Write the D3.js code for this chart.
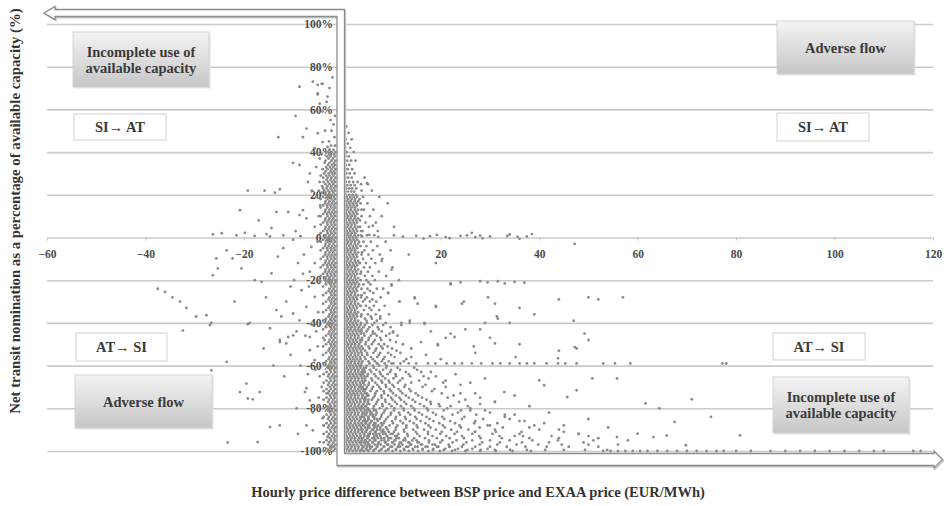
<!DOCTYPE html>
<html><head><meta charset="utf-8">
<script src="https://cdn.jsdelivr.net/npm/d3@7"></script>
<style>body{margin:0;background:#fff}svg{display:block}</style>
</head><body>
<svg id="c" width="944" height="506"></svg>
<script>
// ---------- tick values ----------
const xTicks = [-60,-40,-20,0,20,40,60,80,100,120];
const yTicks = [-100,-80,-60,-40,-20,0,20,40,60,80,100];

// ---------- data ----------
// rows: [net transit nomination %, price difference values ...]
const rightCoreRows = [
[52,.8],[49,1.3],[46,.7,1.9],[44,1.1],[42,.6,1.6],[40,.9,2.3],[38,.6,1.3],[36,1,1.8,2.7],[34,.7,1.4],[32,.6,1.1,2],[30,.8,1.5,2.5],[28,.6,1.2,1.9],[26,.7,1.4,2.2,3.1],[24.5,.6,1,1.7,2.5],[23,.8,1.4,2,2.8],[21.5,.6,1.1,1.8,2.4],
[20,.7,1.4,2.1,2.8],[19,.9,1.6,2.3,3],[18,.6,1.2,1.9,2.6,3.5],[17,1,1.7,2.5,3.2],[16,.7,1.4,2.1,2.8],[15,.9,1.6,2.3,3],[14,.6,1.2,1.9,2.6],[13,1,1.7,2.5,3.2,3.9],[12,.7,1.4,2.1,2.8],[11,.9,1.6,2.3,3],[10,.6,1.2,1.9,2.6],[9,1,1.7,2.5,3.2],[8,.7,1.4,2.1,2.8,3.6],[7,.9,1.6,2.3,3],[6,.6,1.2,1.9,2.6],[5,1,1.7,2.5,3.2],[4,.7,1.4,2.1,2.8],[3,.9,1.6,2.3,3,3.8],[2,.6,1.2,1.9,2.6],[1,1,1.7,2.5,3.2],[0,.7,1.4,2.1,2.8],[-1,.9,1.6,2.3,3],[-2,.6,1.2,1.9,2.6,3.4],[-3,1,1.7,2.5,3.2],[-4,.7,1.4,2.1,2.8],[-5,.9,1.6,2.3,3],[-6,.6,1.2,1.9,2.6],[-7,1,1.7,2.5,3.2,4],[-8,.7,1.4,2.1,2.8],[-9,.9,1.6,2.3,3],[-10,.6,1.2,1.9,2.6],[-11,1,1.7,2.5,3.2],[-12,.7,1.4,2.1,2.8,3.5],[-13,.9,1.6,2.3,3],[-14,.6,1.2,1.9,2.6],[-15,1,1.7,2.5,3.2],[-16,.7,1.4,2.1,2.8],[-17,.9,1.6,2.3,3,3.7],[-18,.6,1.2,1.9,2.6],[-19,1,1.7,2.5,3.2],[-20,.7,1.4,2.1,2.8],[-21,.9,1.6,2.3,3],[-22,.6,1.2,1.9,2.6,3.4],[-23,1,1.7,2.5,3.2],[-24,.7,1.4,2.1,2.8],[-25,.9,1.6,2.3,3],[-26,.6,1.2,1.9,2.6],[-27,1,1.7,2.5,3.2,3.9],[-28,.7,1.4,2.1,2.8],[-29,.9,1.6,2.3,3],[-30,.6,1.2,1.9,2.6],[-31,1,1.7,2.5,3.2],[-32,.7,1.4,2.1,2.8,3.6],[-33,.9,1.6,2.3,3],[-34,.6,1.2,1.9,2.6],[-35,1,1.7,2.5,3.2],[-36,.7,1.4,2.1,2.8],[-37,.9,1.6,2.3,3,3.8],[-38,.6,1.2,1.9,2.6],[-39,1,1.7,2.5,3.2],[-40,.7,1.4,2.1,2.8],
[-41,.9,1.6,2.3,3,3.7],[-42,.6,1.2,1.9,2.6,3.4],[-43,1,1.7,2.5,3.2,3.9],[-44,.7,1.4,2.1,2.8,3.5],[-45,.9,1.6,2.3,3,3.8],[-46,.6,1.2,1.9,2.6,3.3],[-47,1,1.7,2.5,3.2,4],[-48,.7,1.4,2.1,2.8,3.6],[-49,.9,1.6,2.3,3,3.7],[-50,.6,1.2,1.9,2.6,3.4],[-51,1,1.7,2.5,3.2,3.9],[-52,.7,1.4,2.1,2.8,3.5],[-53,.9,1.6,2.3,3,3.8],[-54,.6,1.2,1.9,2.6,3.3],[-55,1,1.7,2.5,3.2,4],[-56,.7,1.4,2.1,2.8,3.6],[-57,.9,1.6,2.3,3,3.7],[-58,.6,1.2,1.9,2.6,3.4],[-59,1,1.7,2.5,3.2,3.9],[-60,.7,1.4,2.1,2.8,3.5],
[-61,.9,1.6,2.3,3,3.7,4.4],[-62,.6,1.2,1.9,2.6,3.3,4.1],[-63,1,1.7,2.5,3.2,3.9,4.6],[-64,.7,1.4,2.1,2.8,3.5,4.2],[-65,.9,1.6,2.3,3,3.8,4.5],[-66,.6,1.2,1.9,2.6,3.3,4],[-67,1,1.7,2.5,3.2,4,4.7],[-68,.7,1.4,2.1,2.8,3.6,4.3],[-69,.9,1.6,2.3,3,3.7,4.5],[-70,.6,1.2,1.9,2.6,3.4,4.1],[-71,1,1.7,2.5,3.2,3.9,4.8],[-72,.7,1.4,2.1,2.8,3.5,4.3],[-73,.9,1.6,2.3,3,3.8,4.6],[-74,.6,1.2,1.9,2.6,3.3,4.1,5],[-75,1,1.7,2.5,3.2,4,4.7],[-76,.7,1.4,2.1,2.8,3.6,4.4,5.3],[-77,.9,1.6,2.3,3,3.7,4.5],[-78,.6,1.2,1.9,2.6,3.4,4.2,5.1],[-79,1,1.7,2.5,3.2,3.9,4.8],[-80,.7,1.4,2.1,2.8,3.5,4.3,5.2],
[-81,.9,1.6,2.3,3,3.8,4.6,5.5,6.4],[-82,.6,1.2,1.9,2.6,3.3,4.1,5,5.9],[-83,1,1.7,2.5,3.2,4,4.8,5.7,6.8],[-84,.7,1.4,2.1,2.8,3.6,4.4,5.3,6.2],[-85,.9,1.6,2.3,3,3.7,4.5,5.4,6.5,7.6],[-86,.6,1.2,1.9,2.6,3.4,4.2,5.1,6],[-87,1,1.7,2.5,3.2,3.9,4.7,5.6,6.7,7.9],[-88,.7,1.4,2.1,2.8,3.5,4.3,5.2,6.3,7.3],[-89,.9,1.6,2.3,3,3.8,4.6,5.5,6.5,7.7,8.9],[-90,.6,1.2,1.9,2.6,3.3,4.1,5,6,7.1,8.3],[-91,1,1.7,2.5,3.2,4,4.8,5.7,6.8,8,9.4],[-92,.7,1.4,2.1,2.8,3.6,4.4,5.3,6.3,7.5,8.8,10.2],[-93,.9,1.6,2.3,3,3.7,4.5,5.4,6.5,7.7,9.1,10.7],[-94,.6,1.2,1.9,2.6,3.4,4.2,5.1,6.1,7.2,8.5,9.9,11.5],[-95,1,1.7,2.5,3.2,3.9,4.7,5.6,6.7,7.9,9.3,10.8,12.4,14.2],[-96,.7,1.4,2.1,2.8,3.5,4.3,5.2,6.2,7.4,8.7,10.1,11.7,13.4,15.3],[-97,.9,1.6,2.3,3,3.8,4.6,5.5,6.6,7.8,9.1,10.6,12.2,14,16,18.3],[-98,.6,1.2,1.9,2.6,3.3,4.1,5,6,7.1,8.4,9.8,11.3,13,14.8,16.9,19.2,21.7],[-99,1,1.7,2.5,3.2,4,4.8,5.7,6.8,8,9.4,10.9,12.5,14.3,16.3,18.5,20.9,23.5,26.4,29.5],[-100,.7,1.4,2.1,2.8,3.6,4.4,5.3,6.3,7.5,8.8,10.2,11.8,13.5,15.4,17.5,19.8,22.3,25,28,31.2,34.6,38.3]
];

const leftCoreRows = [
[75,-2],[72,-4.2],[70,-2.6],[67,-5],[66,-3],[63.5,-3.2],[62.7,-4.6],[59,-4],[57,-1.5],[55,-2.4],[53,-1.8],[50,-2.2,-3.5],[48.8,-5],[47,-1.6],[45,-2.7],[44.7,-4],[43,-1.5,-2.3],[42.4,-3],[41,-1.8,-2.6],[40,-1.4,-2.2,-3.3],[39,-1.7,-2.6,-4.2],[38,-1.5,-2.4,-3.1],[37,-1.9,-2.8,-4.6],[36,-1.4,-2.2,-3.4],[35,-1.7,-2.6,-3.6],[34,-1.5,-2.1,-2.9],[33,-1.8,-2.5,-3.3,-5.3],[32,-1.4,-2.2,-3,-4],[31,-1.7,-2.4,-3.4],[30,-1.5,-2.1,-2.8,-3.7],[29,-1.8,-2.6,-3.3,-4.4],[28,-1.4,-2.2,-3,-3.9],[27,-1.7,-2.4,-3.2],[26,-1.5,-2.1,-2.9,-3.8,-4.6],[25,-1.8,-2.6,-3.4],[24,-1.4,-2.2,-3,-4.1],[23,-1.7,-2.4,-3.2,-3.9],[22,-1.5,-2.1,-2.9,-3.7,-4.8],[21,-1.8,-2.6,-3.4,-4.2],
[20,-1.4,-2.1,-2.8,-3.5],[19,-1.7,-2.4,-3.1,-3.9],[18,-1.5,-2.2,-3,-4.4],[17,-1.8,-2.6,-3.4],[16,-1.4,-2.1,-2.8,-3.5],[15,-1.7,-2.4,-3.1,-3.9],[14,-1.5,-2.2,-3,-4.4],[13,-1.8,-2.6,-3.4],[12,-1.4,-2.1,-2.8,-3.5],[11,-1.7,-2.4,-3.1,-3.9],[10,-1.5,-2.2,-3,-4.4],[9,-1.8,-2.6,-3.4],[8,-1.4,-2.1,-2.8,-3.5],[7,-1.7,-2.4,-3.1,-3.9],[6,-1.5,-2.2,-3,-4.4],[5,-1.8,-2.6,-3.4],[4,-1.4,-2.1,-2.8,-3.5],[3,-1.7,-2.4,-3.1,-3.9],[2,-1.5,-2.2,-3,-4.4],[1,-1.8,-2.6,-3.4],[0,-1.4,-2.1,-2.8,-3.5],[-1,-1.7,-2.4,-3.1,-3.9],[-2,-1.5,-2.2,-3,-4.4],[-3,-1.8,-2.6,-3.4],[-4,-1.4,-2.1,-2.8,-3.5],[-5,-1.7,-2.4,-3.1,-3.9],[-6,-1.5,-2.2,-3,-4.4],[-7,-1.8,-2.6,-3.4],[-8,-1.4,-2.1,-2.8,-3.5],[-9,-1.7,-2.4,-3.1,-3.9],[-10,-1.5,-2.2,-3,-4.4],[-11,-1.8,-2.6,-3.4],[-12,-1.4,-2.1,-2.8,-3.5],[-13,-1.7,-2.4,-3.1,-3.9],[-14,-1.5,-2.2,-3,-4.4],[-15,-1.8,-2.6,-3.4],[-16,-1.4,-2.1,-2.8,-3.5],[-17,-1.7,-2.4,-3.1,-3.9],[-18,-1.5,-2.2,-3,-4.4],[-19,-1.8,-2.6,-3.4],[-20,-1.4,-2.1,-2.8,-3.5],
[-21,-1.4,-2.1,-2.8],[-22,-1.7,-2.4,-3.3],[-23,-1.5,-2.2,-3.9],[-24,-1.8,-2.6],[-25,-1.4,-2.1,-2.8],[-26,-1.7,-2.4,-3.3],[-27,-1.5,-2.2,-3.9],[-28,-1.8,-2.6],[-29,-1.4,-2.1,-2.8],[-30,-1.7,-2.4,-3.3],[-31,-1.5,-2.2,-3.9],[-32,-1.8,-2.6],[-33,-1.4,-2.1,-2.8],[-34,-1.7,-2.4,-3.3],[-35,-1.5,-2.2,-3.9],[-36,-1.8,-2.6],[-37,-1.4,-2.1,-2.8],[-38,-1.7,-2.4,-3.3],[-39,-1.5,-2.2,-3.9],[-40,-1.8,-2.6],[-41,-1.4,-2.1,-2.8],[-42,-1.7,-2.4,-3.3],[-43,-1.5,-2.2,-3.9],[-44,-1.8,-2.6],[-45,-1.4,-2.1,-2.8],[-46,-1.7,-2.4,-3.3],[-47,-1.5,-2.2,-3.9],[-48,-1.8,-2.6],[-49,-1.4,-2.1,-2.8],[-50,-1.7,-2.4,-3.3],[-51,-1.5,-2.2,-3.9],[-52,-1.8,-2.6],[-53,-1.4,-2.1,-2.8],[-54,-1.7,-2.4,-3.3],[-55,-1.5,-2.2,-3.9],[-56,-1.8,-2.6],[-57,-1.4,-2.1,-2.8],[-58,-1.7,-2.4,-3.3],[-59,-1.5,-2.2,-3.9],[-60,-1.8,-2.6],
[-61,-1.4,-2.1,-2.9],[-62,-1.7,-2.5],[-63,-1.5,-2.3,-3.2],[-64,-1.8,-2.7,-3.8],[-65,-1.4,-2.1,-2.9],[-66,-1.7,-2.5],[-67,-1.5,-2.3,-3.2],[-68,-1.8,-2.7,-3.8],[-69,-1.4,-2.1,-2.9],[-70,-1.7,-2.5],[-71,-1.5,-2.3,-3.2],[-72,-1.8,-2.7,-3.8],[-73,-1.4,-2.1,-2.9],[-74,-1.7,-2.5],[-75,-1.5,-2.3,-3.2],[-76,-1.8,-2.7,-3.8],[-77,-1.4,-2.1,-2.9],[-78,-1.7,-2.5],[-79,-1.5,-2.3,-3.2],[-80,-1.8,-2.7,-3.8],[-81,-1.4,-2.1,-2.9],[-82,-1.7,-2.5],[-83,-1.5,-2.3,-3.2],[-84,-1.8,-2.7,-3.8],[-85,-1.4,-2.1,-2.9],[-86,-1.7,-2.5],[-87,-1.5,-2.3,-3.2],[-88,-1.8,-2.7,-3.8],[-89,-1.4,-2.1,-2.9],[-90,-1.7,-2.5],[-91,-1.5,-2.3,-3.2],[-92,-1.8,-2.7,-3.8],[-93,-1.4,-2.1,-2.9],[-94,-1.7,-2.5],[-95,-1.5,-2.3,-3.2],[-96,-1.8,-2.7,-3.8],[-97,-1.4,-2.1,-2.9],[-98,-1.7,-2.5],[-99,-1.5,-2.3,-3.2],[-100,-1.8,-2.7,-3.8]
];

const fanRightRows = [
[28,4.5],[25,5.2,3.8],[22,3.9,6],[19,4.2,7.5],[16,3.7,5.1,9.2],[13,4.4,6.3],[10,3.9,5.6,8],[7,4.7,6.8],[5,3.6,5.4,10.5],[3,4.1,7.2],[1,3.8,5,6.5],
[-2,4.3,5.8,8.8],[-4,3.7,4.9,7.1],[-6,4.5,6.2,9.8],[-8,3.9,5.3,7.6,13.5],[-10,4.2,5.9,8.1],[-12,3.6,4.8,6.7,19],[-14,4.4,5.6,10.2],[-16,3.8,5.2,7.4],[-18,4.6,6.1,8.9],[-20,3.7,4.9,6.6,11.5],[-22,4.3,5.7,10,22],[-24,3.9,5.1,7,8.3],[-26,4.5,6.3,9.3],[-28,3.8,5,7.8,14.7],[-30,4.2,5.6,6.9,11.6],[-32,3.7,4.8,6.4,8.6,19],[-34,4.4,5.9,7.5],[-36,3.9,5.2,6.8,9.5],[-38,4.6,6,7.7],[-40,3.8,5,6.5,8.8,12,13.7,16.7],
[-21,5.3],[-25,5.6],[-29,4.6,6.1],[-33,5.5],[-37,5.8],[-39,4.9,7],
[-42,4.3,5.5,7.2,9.8],[-44,3.9,4.9,6.2,8,10.3],[-46,4.5,5.8,7,8.9,11.2],[-48,4,5.3,6.6,7.9,9.7],[-50,4.7,6,7.4,8.5,12.3,19.4],[-52,4.2,5.5,6.9,8.2,10.1],[-54,3.9,5,6.3,7.7,9.3,11.8],[-56,4.5,5.8,7.1,8.6,10.6,14],[-58,4.1,5.3,6.6,8,9.4,12.5],[-60,3.8,4.9,6.2,7.5,9],
[-41,4.6,6.1,8.3],[-43,5.2,7.4],[-45,4.4,6.6,9.6],[-47,5.4,7.7],[-49,4.8,6.3,10.9],[-51,5.3,7.9,9.2],[-53,4.6,6.7,11],[-55,5.1,7.4,9.9],[-57,4.7,6.2,8.3,13],[-59,5.5,7.2,10.4],
[-62,4.4,5.6,6.9,8.3,9.9,11.7,15.2],[-64,4,5.2,6.5,7.8,9.2,10.8,13.5],[-66,4.6,5.9,7.3,8.7,10.4,12.2,17.5],[-68,4.2,5.4,6.7,8.1,9.6,11.3,14,20.5],[-70,3.9,5,6.2,7.5,8.9,10.5,12.6,16.3],[-72,4.5,5.7,7,8.4,9.9,11.8,13.9,18.2],[-74,4.1,5.3,6.6,7.9,9.3,10.9,12.9,15.4,22.6],[-76,4.7,6,7.3,8.7,10.2,11.9,14.3,17.1,25],[-78,4.3,5.5,6.8,8.1,9.5,11.1,13,15.8,19.6,28],[-80,3.9,5.1,6.3,7.6,9,10.6,12.4,14.5,17.2,21.3,26],
[-82,4.4,5.7,7,8.4,9.9,11.5,13.4,15.6,18.4,23.5,30],[-84,4,5.2,6.5,7.9,9.3,10.9,12.7,14.8,17.1,20.3,24.8,33],[-86,4.6,5.9,7.2,8.6,10.1,11.8,13.7,15.9,18.5,21.9,27,36],[-88,4.2,5.4,6.7,8.1,9.6,11.2,13,15.1,17.5,20.4,23.8,29.5,39],[-90,3.8,5,6.3,7.7,9.2,10.8,12.5,14.4,16.6,19,22.1,25.6,31,44],[-92,4.4,5.6,6.9,8.3,9.8,11.4,13.2,15.2,17.4,19.9,22.8,26.4,30.5,36,48],[-94,4,5.2,6.5,7.9,9.4,11,12.7,14.6,16.8,19.2,21.8,24.7,28.1,32.4,38,52],[-96,3.7,4.8,6.1,7.4,8.8,10.3,11.9,13.6,15.5,17.6,19.9,22.4,25.2,28.4,32,36.5,42,49],[-98,4.3,5.6,7,8.5,10.1,11.7,13.4,15.3,17.3,19.5,21.8,24.3,27,30,33.4,37.2,41.5,46,52],[-99.5,3.9,5.1,6.4,7.8,9.3,10.9,12.6,14.4,16.3,18.4,20.6,22.9,25.4,28.1,31,34.1,37.5,41.2,45,49.3,53.8],
[-61,4.8,6.4,8.9,11.2,14.6],[-63,4.3,5.9,7.6,9.7,12.9,18],[-65,5.1,6.8,8.2,10.9,13.8,16.5],[-67,4.6,6.1,7.9,9.4,11.7,15.6,21],[-69,5.3,7.1,8.8,10.2,12.8,16.9,24],[-71,4.4,6,7.8,9.6,11.4,13.6,18.7],[-73,5,6.7,8.5,10.3,12.2,14.9,20.2,27],[-75,4.6,6.3,8,9.9,11.6,13.5,16.2,21.4],[-77,5.2,7,8.8,10.7,12.6,14.8,17.9,23.7,31],[-79,4.7,6.4,8.2,10,11.9,14,16.6,19.8,25.5],
[-81,5.1,6.8,8.6,10.5,12.5,14.7,17.4,20.6,24.1,29],[-83,4.6,6.2,8,9.8,11.7,13.8,16.2,19,22.4,27.2,35],[-85,5.3,7,8.9,10.8,12.9,15.1,17.7,20.7,24.3,28.6,34],[-87,4.8,6.5,8.4,10.3,12.3,14.5,16.9,19.7,22.9,26.8,31.5,41],[-89,5.2,7,8.9,10.9,13,15.3,17.9,20.8,24.1,27.9,32.6,38],[-91,4.7,6.6,8.5,10.5,12.6,14.9,17.4,20.2,23.3,26.9,31.2,36.4,45],[-93,5.1,7,9,11.1,13.3,15.7,18.3,21.1,24.3,27.8,31.9,36.7,42.5,50],[-95,4.6,6.5,8.5,10.6,12.8,15.1,17.6,20.3,23.2,26.4,30,34,38.6,43.8,51],[-97,5.2,7.2,9.3,11.5,13.8,16.2,18.8,21.6,24.6,27.9,31.5,35.4,39.8,44.6,50,56]
];

// horizontal bands of points (the -60 % band and the -100 % floor)
const bandRows = [
[-59,5.5,7,8.6,10,11.8,13.5,15,17.4,18.9,21.2,22.8,24.3,26.3,28.2,30.5,32.1,34,36,37.5,39,41.5,43.8,45.3,47.6,53,55.4,58.5,77.2,78],
[-100,53,54.5,56,57.5,59,60.5,62,64,66,68,70,72,74,76,77.5,80,83,87,90,93,96,99,102,105,108,110,116,117.5]
];

const zeroRow = [[-26.3,1.5],[-24.5,2],[-21.5,1],[-19.8,2.2],[-17.8,.8],[-15.4,1.6],[-14.7,.5],[-12,1],[-10,-1],[-8.5,.6],[4,.5],[5.5,1.2],[7.3,.3],[10.5,1],[12.3,.4],[15,.8],[16.5,-.5],[17.8,.6],[19.2,1.2],[21,.2],[21.8,-.3],[24,.8],[25.3,1],[26.3,2.2],[27,.2],[28,.9],[28.5,-.4],[30,.5],[33.5,.7],[34,1.4],[35.6,.3],[36,-.6],[37.5,.5],[38.5,1.6],[47.2,-3]];

const scatterLeft = [[-10,35],[-19.2,22],[-15.8,22],[-13.7,21],[-12.7,22.6],[-20.8,12.8],[-13.4,12],[-11,12],[-8.7,10.5],[-14.4,4.4],[-23.5,-6],[-25.6,-9.8],[-22.3,-9.8],[-26.3,-17.7],[-25.3,-14.5],[-20.5,-14.5],[-17.8,-20],[-16.4,-20.8],[-14.4,-16.8],[-13.1,-9],[-21.9,-30],[-27.6,-36.4],[-26.6,-40],[-18.8,-40],[-14.7,-42.5],[-13.4,-34],[-11.4,-30],[-12.4,-37],[-10,-35.6],[-12.7,-49],[-11,-46.6],[-9.3,-44],
[-8.7,34],[-6.6,30],[-5.3,19],[-8,12.8],[-7.3,9],[-5.6,5],[-6.3,-4.4],[-5.6,-12],[-6.6,-16],[-8.3,-24.7],[-5.6,-27.8],[-7.3,-32.5],[-8.7,-38.8],[-6,-41],[-6.6,-46.6],[-5,-51],
[-6,73],[-5,71.5],[-4,72],[-5,67.5],[-8.7,70.6],[-7.3,51],[-8,47],[-5.6,41.8],[-13,47],[-9.5,57],
[-37.5,-24],[-36,-25.5],[-34.5,-28],[-33,-30],[-31.7,-33],[-29.7,-37],[-32.4,-43.6],[-26.9,-41],[-19.2,-40.6],[-12.7,-48],[-11.4,-49.6],[-10,-45.8],[-23.5,-58.3],[-26.6,-62.2],[-19.5,-68.4],[-20.8,-72.4],[-19.2,-75.4],[-18.2,-75.8],[-16.8,-72.4],[-14.7,-88.8],[-12.7,-88],[-17.2,-95.8],[-7.6,-72.4],[-6.6,-76.3],[-7.3,-88],[-23.3,-96],
[-8,-17],[-5.3,-44],[-3.6,-48],[-6.6,-52.8],[-5.6,-57.5],[-4.6,-65],[-7.3,-70.6],[-3.2,-73],[-5,-79.4],[-4,-84.7],[-6,-90.3],[-3,-93.5],[-4.6,-95.8],[-2.2,-98],
[-4.5,15],[-6.2,22],[-7,26],[-4.8,10],[-9.5,3],[-5,-2],[-7.8,-8],[-4.6,-20],[-6.8,-23],[-9.8,-20],[-4.9,-35],[-7.5,-46],[-5.5,-62],[-8.5,-60],[-4.2,-70],[-6,-82],[-9,-92],[-5.4,-99],[-3.8,-88],[-4.8,-75],[-7,-64],[-10.5,-55],[-11.8,-65],[-9.3,-80],[-14,-60],[-16,-52],[-10.5,-23],[-12,-5],[-9,-12],[-15.5,-28],[-17,8]];

const scatterRight = [[28,-20.5],[29.5,-21],[31.6,-20.5],[33,-21.5],[35,-20.8],[37,-21.2],[24,-21],
[24.7,-30],[29.6,-28],[36,-33],[31.6,-38],[44,-29],[50,-28],[52,-29],[57,-28],[47,-39],[39,-36],[22,-45],[28,-43],[36,-50],[44,-53],[50,-48],
[15.3,-31],[24.3,-31],[31,-31],[34,-40],[29,-40],[31.4,-37],[25,-43],[22.8,-46.6],[31,-49.6],[26.7,-51],[35.2,-56],[47.6,-52],[43.8,-56.6],[49.2,-45],[47.2,-51.3],
[55.8,-66],[50.8,-66],[45.7,-74.7],[47.6,-71.6],[61.6,-77.7],[64.4,-80],[71,-75.8],[74.9,-84],[67.5,-86.4],[65.9,-92.7],[69.8,-97.3],[80.8,-92.7],[55.8,-93.5],[60,-91.9],[63.2,-93.5],[40,-66.9],[41,-69.2],[32.9,-72.4],
[9.3,-26],[11.6,-30],[14.7,-28.5],[19,-32.5],[10,-22.5],[22,-21.5],[7.7,-37],[12,-41],[13.7,-39],[16.7,-40.5],[6.2,-45],[10.3,-44.5],[16,-49],[19.4,-50.5],[21,-47],
[5,25.5],[6.2,5.5],[8,-11],[10,-15],[17,-55],[20,-57],[27,-54],[30,-47],[14,-52],[18,-44],
[16,-63],[19,-65],[23,-64],[26,-68],[29,-66],[21,-70],[24,-73],[28,-75],[31,-77],[35,-74],[38,-79],[18,-78],[22,-79],[26,-81],[33,-83],[37,-86],[42,-82],[45,-88],[40,-90],[50,-85],[54,-89],[58,-95],[30,-88],[27,-91],[35,-93],[44,-94],[48,-92]];

// ---------- annotation layout ----------
const notes = [
 {x:73,y:32,w:136,h:55,shade:true,lines:["Incomplete use of","available capacity"]},
 {x:74,y:114,w:92,h:26,shade:false,lines:["SI\u2192 AT"]},
 {x:777,y:21,w:137,h:53,shade:true,lines:["Adverse flow"]},
 {x:777,y:113,w:92,h:28,shade:false,lines:["SI\u2192 AT"]},
 {x:76,y:333,w:91,h:28,shade:false,lines:["AT\u2192 SI"]},
 {x:75,y:375,w:137,h:53,shade:true,lines:["Adverse flow"]},
 {x:773,y:333,w:92,h:27,shade:false,lines:["AT\u2192 SI"]},
 {x:773,y:377,w:136,h:56,shade:true,lines:["Incomplete use of","available capacity"]}
];

// ---------- build ----------
const svg = d3.select("#c");
const FONT = "'Liberation Serif','Times New Roman',serif";
const x = d3.scaleLinear().domain([-60,120]).range([47,933]);
const y = d3.scaleLinear().domain([-100,100]).range([451,24]);

const defs = svg.append("defs");
const grad = defs.append("linearGradient").attr("id","boxg").attr("x1",0).attr("y1",0).attr("x2",0).attr("y2",1);
grad.append("stop").attr("offset","0%").attr("stop-color","#f4f4f4");
grad.append("stop").attr("offset","100%").attr("stop-color","#c6c6c6");

// gridlines
const grid = svg.append("g").attr("transform",`translate(${x(-60)},0)`)
  .call(d3.axisRight(y).tickValues(yTicks).tickSize(x(120)-x(-60)).tickFormat(""));
grid.select(".domain").remove();
grid.selectAll("line").attr("stroke","#cacaca").attr("stroke-width",1.6);

// y tick labels
const yl = svg.append("g").attr("transform",`translate(336,0)`)
  .call(d3.axisLeft(y).tickValues(yTicks).tickSize(0).tickPadding(3).tickFormat(d=>d+"%"));
yl.select(".domain").remove();
yl.selectAll("text").attr("font-family",FONT).attr("font-weight","bold").attr("font-size",11.5).attr("fill","#4a4a4a");

// x tick labels
const xl = svg.append("g").attr("transform",`translate(0,${y(0)})`)
  .call(d3.axisBottom(x).tickValues(xTicks.filter(d=>d!==0)).tickSize(3).tickPadding(9));
xl.select(".domain").remove();
xl.selectAll("line").attr("stroke","#c4c4c4");
xl.selectAll("text").attr("font-family",FONT).attr("font-weight","bold").attr("font-size",11.5).attr("fill","#4a4a4a");

// points
const pts = [];
[rightCoreRows,leftCoreRows,fanRightRows,bandRows].forEach(rows =>
  rows.forEach(([yv,...xs]) => xs.forEach(xv => pts.push([xv,yv]))));
[zeroRow,scatterLeft,scatterRight].forEach(a => a.forEach(p => pts.push(p)));
svg.append("g").selectAll("circle").data(pts).join("circle")
  .attr("cx",d=>x(d[0])).attr("cy",d=>y(d[1])).attr("r",1.4).attr("fill","#8a8a8a");

// hollow L-shaped arrow (axes)
const arrowPts = [[44,13],[55,6.5],[55,9.5],[344.5,9.5],[344.5,453.5],[934,453.5],[934,451],[942.5,459.5],[934,468],[934,465.5],[337,465.5],[337,16.5],[55,16.5],[55,19.5]];
svg.append("polygon").attr("points",arrowPts.map(p=>[p[0]+1,p[1]+1.2].join(",")).join(" "))
  .attr("fill","none").attr("stroke","#c8c8c8").attr("stroke-width",1.4);
svg.append("polygon").attr("points",arrowPts.map(p=>p.join(",")).join(" "))
  .attr("fill","#fff").attr("stroke","#8c8c8c").attr("stroke-width",1.3);

// annotation boxes
const ng = svg.append("g").selectAll("g").data(notes).join("g");
ng.append("rect").attr("x",d=>d.x+1.5).attr("y",d=>d.y+1.5).attr("width",d=>d.w).attr("height",d=>d.h)
  .attr("fill",d=>d.shade?"#e4e4e4":"none");
ng.append("rect").attr("x",d=>d.x).attr("y",d=>d.y).attr("width",d=>d.w).attr("height",d=>d.h)
  .attr("fill",d=>d.shade?"url(#boxg)":"#fff").attr("stroke",d=>d.shade?"#d4d4d4":"#d2d2d2").attr("stroke-width",1);
ng.each(function(d){
  const g = d3.select(this), n = d.lines.length, lh = 16;
  d.lines.forEach((t,i)=>{
    g.append("text").attr("x",d.x+d.w/2).attr("y",d.y+d.h/2+(i-(n-1)/2)*lh).attr("dy","0.35em")
      .attr("text-anchor","middle").attr("font-family",FONT).attr("font-weight","bold")
      .attr("font-size",14.5).attr("fill","#3a3a3a").text(t);
  });
});

// axis titles
svg.append("text").attr("x",478).attr("y",492).attr("dy","0.35em").attr("text-anchor","middle")
  .attr("font-family",FONT).attr("font-weight","bold").attr("font-size",14.5).attr("fill","#333")
  .text("Hourly price difference between BSP price and EXAA price (EUR/MWh)");
svg.append("text").attr("transform","translate(15,211) rotate(-90)").attr("dy","0.35em").attr("text-anchor","middle")
  .attr("font-family",FONT).attr("font-weight","bold").attr("font-size",14.8).attr("fill","#333")
  .text("Net transit nomination as a percentage of available capacity (%)");
</script>
</body></html>
